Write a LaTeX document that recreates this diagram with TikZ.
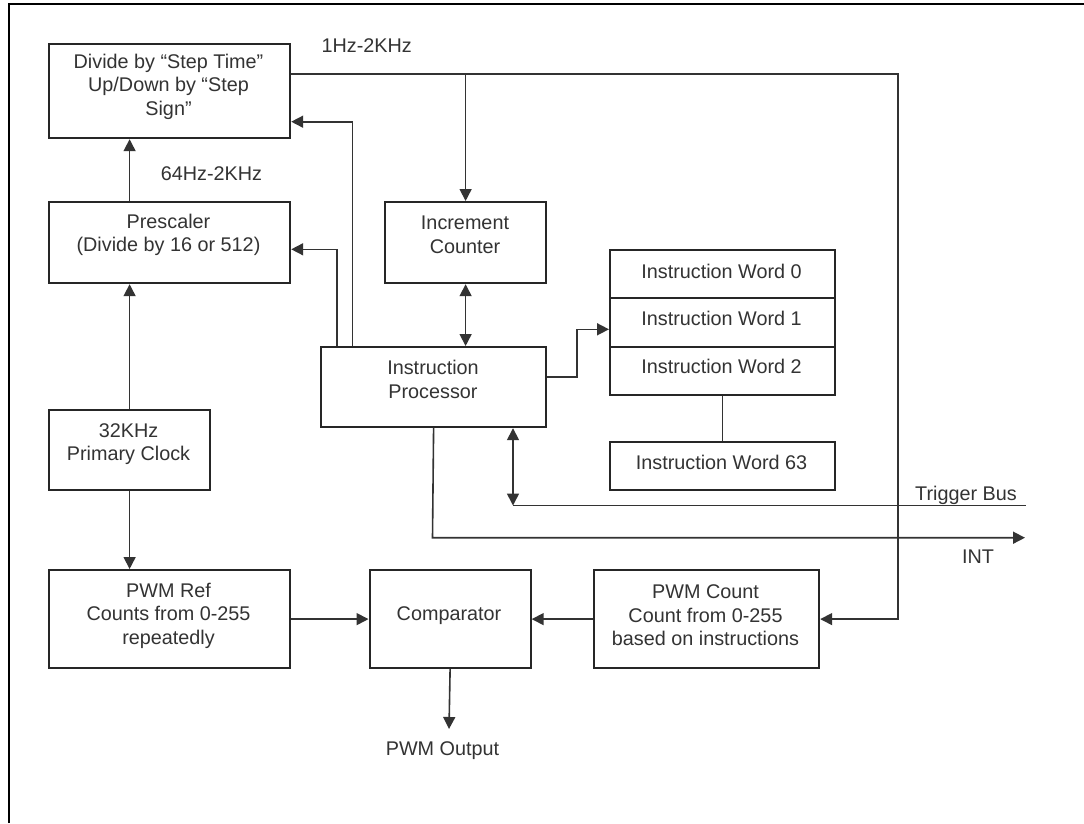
\documentclass[tikz,border=0pt]{standalone}
\usepackage{fontspec}
\setmainfont{Liberation Sans}
\usetikzlibrary{arrows.meta}
\begin{document}
\begin{tikzpicture}[x=1pt,y=-1pt,
  box/.style={draw=black!85,line width=2.2pt,inner sep=0pt,anchor=north west},
  txt/.style={align=center,text=black!80,font=\fontsize{19.8pt}{23.5pt}\selectfont,inner sep=0pt},
  conn/.style={draw=black!80,line width=1.6pt},
  tip/.style={-{Triangle[length=12pt,width=12pt]}},
  dtip/.style={{Triangle[length=12pt,width=12pt]}-{Triangle[length=12pt,width=12pt]}}]
\useasboundingbox (0,0) rectangle (1084,823);
\fill[white] (0,0) rectangle (1084,823);
% frame
\draw[black,line width=2.2pt] (9.3,823) -- (9.3,4) -- (1084,4);
% boxes
\node[box,minimum width=241pt,minimum height=94pt] (div) at (48,43) {};
\node[box,minimum width=241pt,minimum height=81pt] (pre) at (48,201) {};
\node[box,minimum width=161pt,minimum height=81pt] (inc) at (384,201) {};
\node[box,minimum width=225pt,minimum height=80pt] (ip) at (320,346) {};
\node[box,minimum width=225pt,minimum height=48pt] (iw0) at (609,249) {};
\node[box,minimum width=225pt,minimum height=48.5pt] (iw1) at (609,297) {};
\node[box,minimum width=225pt,minimum height=48pt] (iw2) at (609,345.5) {};
\node[box,minimum width=225pt,minimum height=48pt] (iw63) at (609,441) {};
\node[box,minimum width=161pt,minimum height=80pt] (clk) at (48,409) {};
\node[box,minimum width=241pt,minimum height=98pt] (ref) at (48,569) {};
\node[box,minimum width=161pt,minimum height=98pt] (cmp) at (368.5,569) {};
\node[box,minimum width=225pt,minimum height=98pt] (cnt) at (593,569) {};
% texts
\node[txt] (divT) at (168.5,86.5) {Divide by “Step Time”\\Up/Down by “Step\\Sign”};
\node[txt] (preT) at (168.5,235) {Prescaler\\(Divide by 16 or 512)};
\node[txt] (incT) at (465,235) {Increment\\Counter};
\node[txt] (ipT) at (433,379.5) {Instruction\\Processor};
\node[txt] (iw0T) at (721.5,271.5) {Instruction Word 0};
\node[txt] (iw1T) at (721.5,318.5) {Instruction Word 1};
\node[txt] (iw2T) at (721.5,366.5) {Instruction Word 2};
\node[txt] (iw63T) at (721.5,462.5) {Instruction Word 63};
\node[txt] (clkT) at (128.5,444) {32KHz\\Primary Clock};
\node[txt] (refT) at (168.5,615.5) {PWM Ref\\Counts from 0-255\\repeatedly};
\node[txt] (cmpT) at (449,616) {Comparator};
\node[txt] (cntT) at (705.5,615.5) {PWM Count\\Count from 0-255\\based on instructions};
\node[txt] (outT) at (442.5,751) {PWM Output};
\node[txt] (lbl1) at (366.7,46) {1Hz-2KHz};
\node[txt] (lbl2) at (211.5,174) {64Hz-2KHz};
\node[txt] (tbT) at (966,495) {Trigger Bus};
\node[txt] (intT) at (978,557) {INT};
% helper coordinates
\coordinate (yTop) at (0,74);
\coordinate (rt) at (898,74);
\coordinate (c1) at (337,249.3);
\coordinate (c2) at (352.6,121.7);
\coordinate (c3) at (577,377);
\coordinate (c4) at (577,329.3);
\coordinate (c5) at (513,505.5);
\coordinate (tbEnd) at (1026,505.5);
\coordinate (c6) at (432.5,537.7);
\coordinate (intEnd) at (1025,537.7);
\coordinate (outEnd) at (449,729);
% connectors
\draw[conn,tip] (div.east |- yTop) -- (rt) -- (rt |- cnt.east) -- (cnt.east);
\draw[conn,tip] (inc.north |- yTop) -- (inc.north);
\draw[conn,tip] (pre.north -| clk.north) -- (div.south -| clk.north);
\draw[conn,tip] (clk.north) -- (pre.south -| clk.north);
\draw[conn,tip] (clk.south) -- (ref.north -| clk.south);
\draw[conn,tip] (ref.east) -- (cmp.west);
\draw[conn,tip] (cnt.west) -- (cmp.east);
\draw[conn,tip] (cmp.south) -- (outEnd);
\draw[conn,dtip] (inc.south) -- (ip.north -| inc.south);
\draw[conn,tip] (ip.north -| c1) -- (c1) -- (pre.east |- c1);
\draw[conn,tip] (ip.north -| c2) -- (c2) -- (div.east |- c2);
\draw[conn,tip] (ip.east |- c3) -- (c3) -- (c4) -- (iw1.west |- c4);
\draw[conn] (iw2.south) -- (iw63.north);
\draw[conn,dtip] (ip.south -| c5) -- (c5);
\draw[conn] (c5) -- (tbEnd);
\draw[conn,tip] (ip.south) -- (c6) -- (intEnd);
\end{tikzpicture}
\end{document}
